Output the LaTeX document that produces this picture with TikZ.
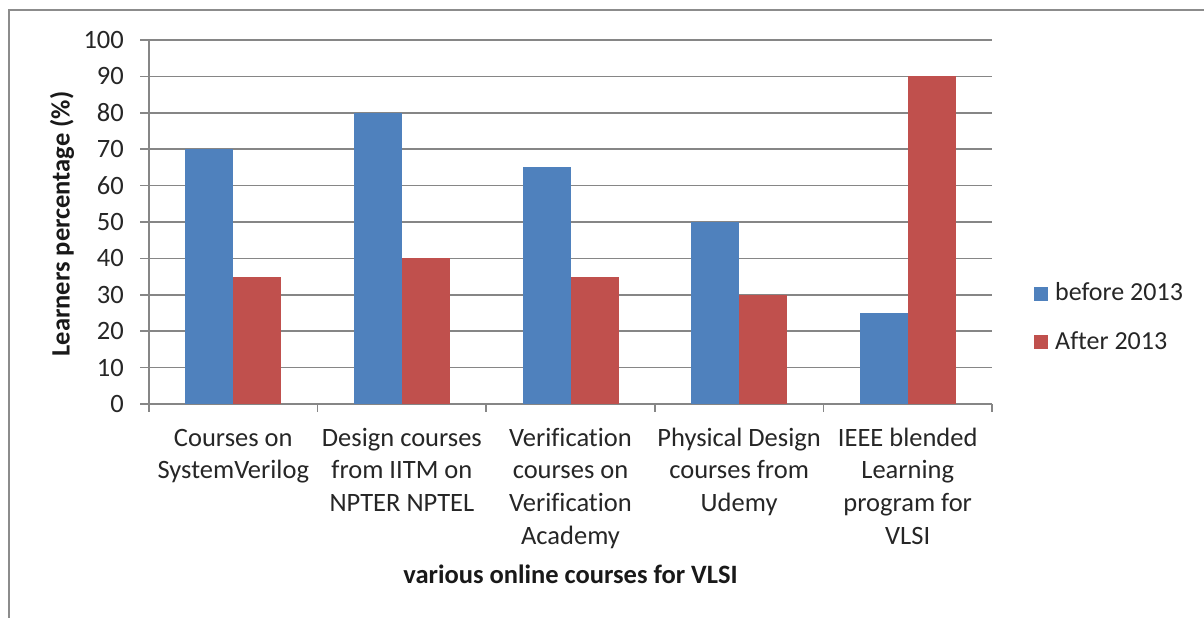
\documentclass[tikz,border=0pt]{standalone}
\usepackage{fontspec}
\setmainfont{Carlito}[Ligatures=NoCommon]
\definecolor{barblue}{HTML}{4F81BD}
\definecolor{barred}{HTML}{C0504D}
\definecolor{gridgray}{HTML}{868686}
\definecolor{framegray}{HTML}{8C8C8C}
\begin{document}
\begin{tikzpicture}[x=1pt,y=-1pt,
  gridline/.style={draw=gridgray,line width=1.6pt},
  axisline/.style={draw=gridgray,line width=1.6pt},
  ticklab/.style={anchor=east,inner sep=0pt,font=\fontsize{26.5}{30}\selectfont,text=black!85},
  catlab/.style={anchor=north,inner sep=0pt,align=center,font=\fontsize{26.5}{32.7}\selectfont,text=black!85},
  legtext/.style={anchor=base west,inner sep=0pt,font=\fontsize{26}{30}\selectfont,text=black!85},
  axtitle/.style={inner sep=0pt,font=\bfseries\fontsize{26.5}{30}\selectfont,text=black!90},
  bluebar/.style={fill=barblue,draw=none},
  redbar/.style={fill=barred,draw=none}]
\useasboundingbox (0,0) rectangle (1204,618);
\fill[white] (0,0) rectangle (1204,618);
% outer frame
\coordinate (fbl) at (9,618);
\coordinate (ftl) at (9,10);
\coordinate (ftr) at (1204,10);
\draw[framegray,line width=1.6pt] (fbl) -- (ftl) -- (ftr);
% grid lines and y tick labels
\foreach \v in {0,10,...,100}{
  \pgfmathsetmacro{\yy}{404-3.64*\v}
  \coordinate (gl\v) at (140,\yy);
  \coordinate (gr\v) at (992,\yy);
  \draw[gridline] (gl\v) -- (gr\v);
  \node[ticklab] (yl\v) at (124,\yy) {\v};
}
% bars
\def\cw{168.6}
\foreach \i/\b/\r in {0/70/35,1/80/40,2/65/35,3/50/30,4/25/90}{
  \pgfmathsetmacro{\c}{149+\cw*(\i+0.5)}
  \pgfmathsetmacro{\yb}{404-3.64*\b}
  \pgfmathsetmacro{\yr}{404-3.64*\r}
  \fill[bluebar] (\c-48,404) rectangle (\c,\yb);
  \fill[redbar] (\c,404) rectangle (\c+48,\yr);
}
% y axis and x-axis ticks
\coordinate (yat) at (149,40);
\coordinate (yab) at (149,412);
\draw[axisline] (yat) -- (yab);
\foreach \i in {1,...,5}{
  \pgfmathsetmacro{\tx}{149+\cw*\i}
  \coordinate (tt\i) at (\tx,404);
  \coordinate (tb\i) at (\tx,412);
  \draw[axisline] (tt\i) -- (tb\i);
}
% category labels
\node[catlab] (c1) at (233.3,423) {\strut Courses on\\SystemVerilog};
\node[catlab] (c2) at (401.9,423) {\strut Design courses\\from IITM on\\NPTER NPTEL};
\node[catlab] (c3) at (570.5,423) {\strut Verification\\courses on\\Verification\\Academy};
\node[catlab] (c4) at (739.1,423) {\strut Physical Design\\courses from\\Udemy};
\node[catlab] (c5) at (907.7,423) {\strut IEEE blended\\Learning\\program for\\VLSI};
% axis titles
\node[axtitle,rotate=90] (ytitle) at (62,224) {Learners percentage (\%)};
\node[axtitle,anchor=base] (xtitle) at (570.5,583) {various online courses for VLSI};
% legend
\node[fill=barblue,minimum size=14pt,inner sep=0pt] (lb) at (1041,294) {};
\node[legtext] (lbt) at (1055,300) {before 2013};
\node[fill=barred,minimum size=14pt,inner sep=0pt] (lr) at (1041,342) {};
\node[legtext] (lrt) at (1055,349) {After 2013};
\end{tikzpicture}
\end{document}
